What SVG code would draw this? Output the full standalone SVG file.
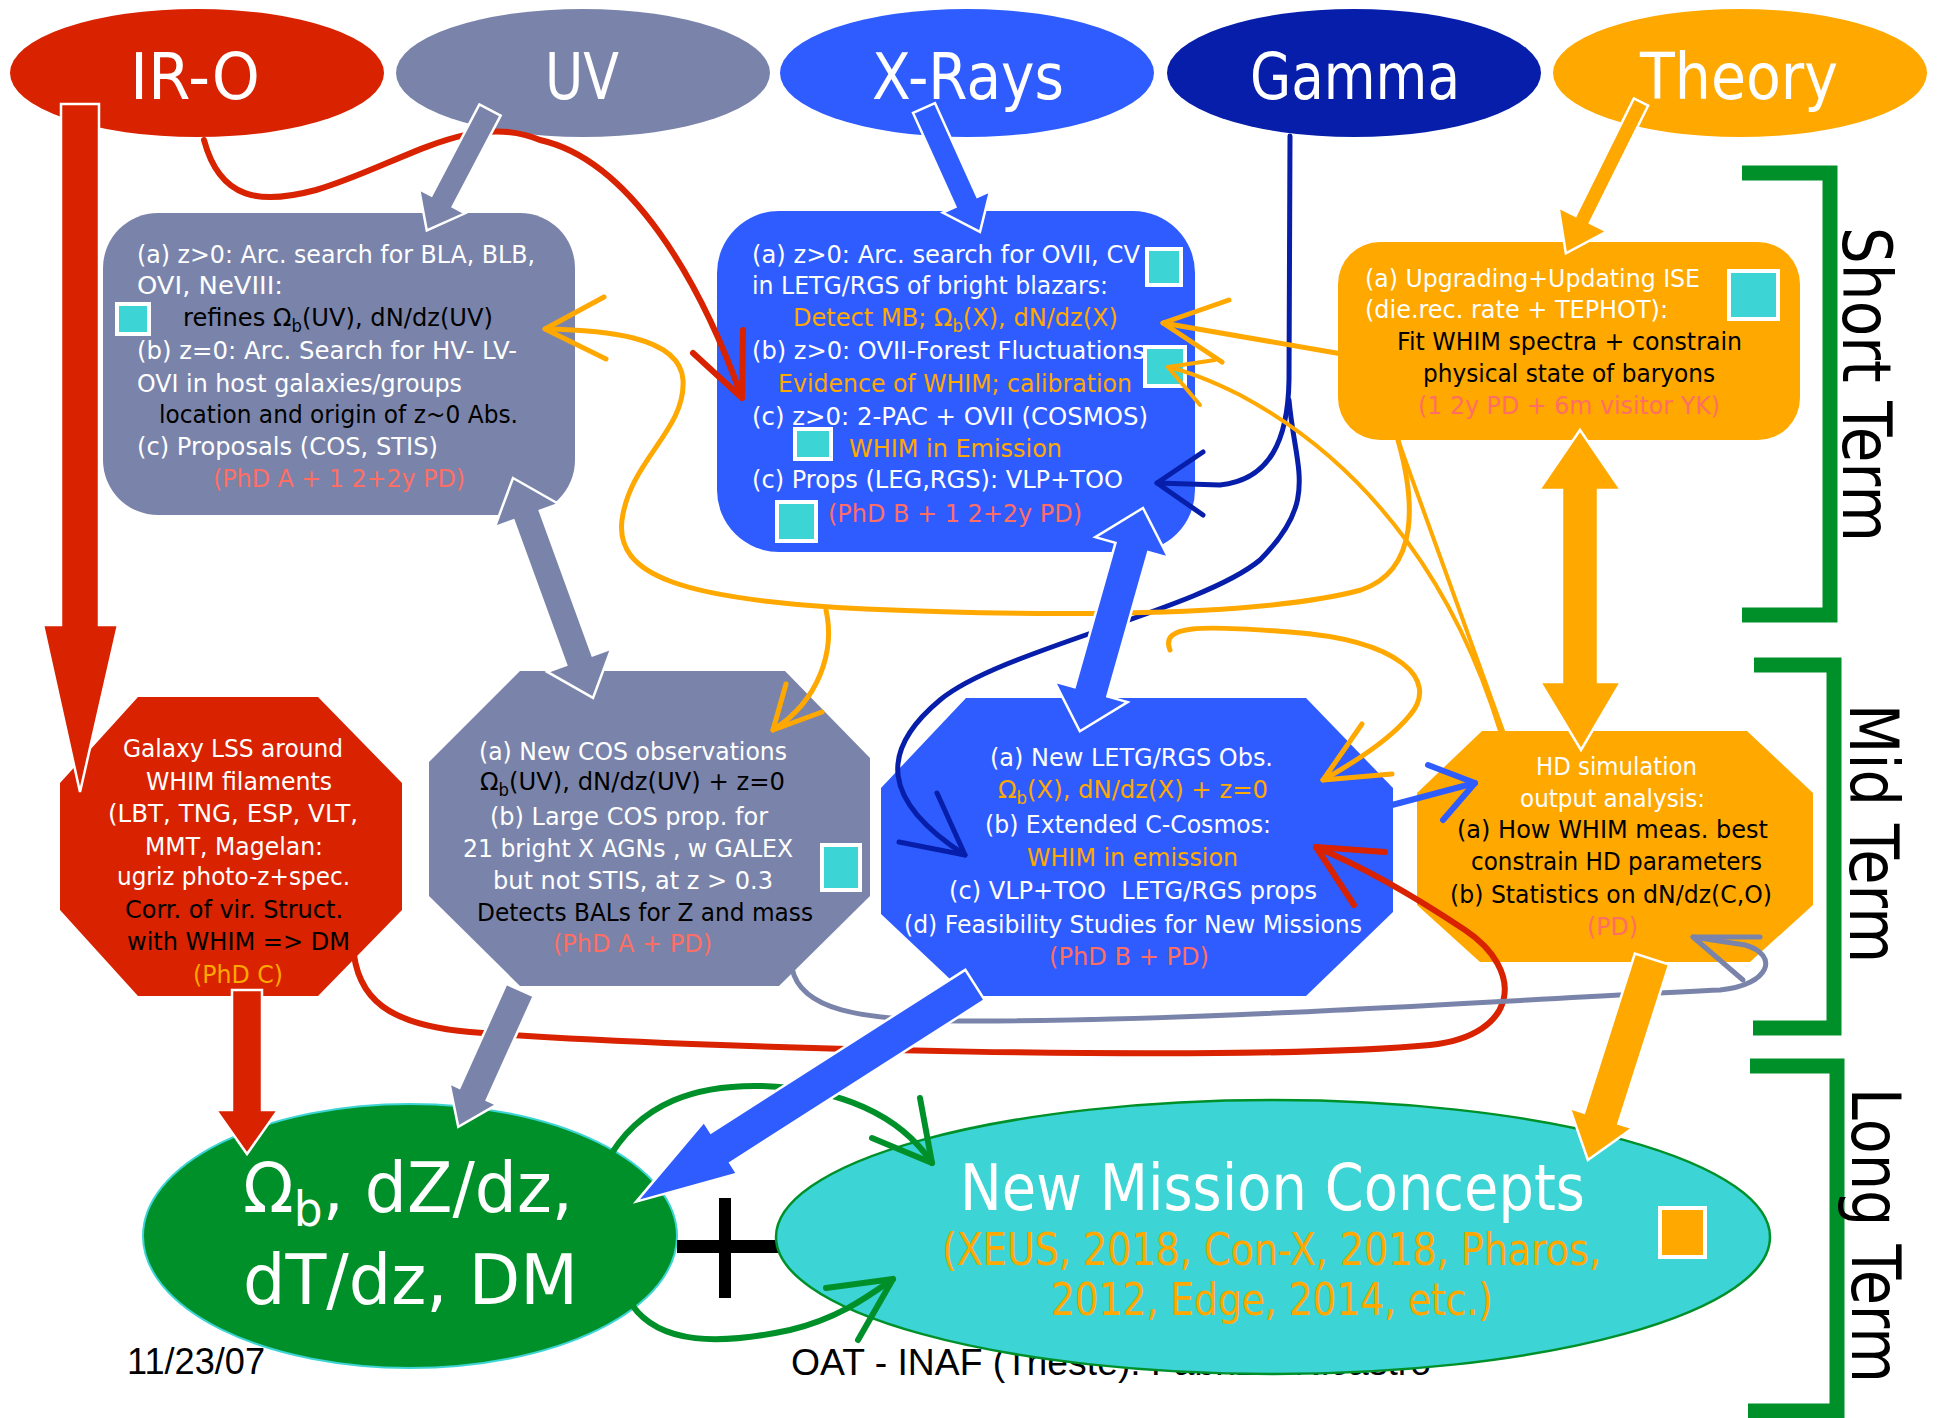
<svg xmlns="http://www.w3.org/2000/svg" width="1940" height="1418" viewBox="0 0 1940 1418">
<style>
text{font-family:"DejaVu Sans","Liberation Sans",sans-serif;}
.t{font-size:25px;}
.w{fill:#FFFFFF;}
.k{fill:#000000;}
.s{fill:#FF6E64;}
.o{fill:#FFA800;}
.sub{font-size:17px;}
.big{font-size:64px;fill:#FFFFFF;}
.side{font-size:68px;fill:#000000;}
.foot{font-family:"Liberation Sans",sans-serif;font-size:36px;fill:#000000;}
.sq{fill:#3CD4D4;stroke:#FFFFFF;stroke-width:4;}
.ln{fill:none;stroke-linecap:round;stroke-linejoin:round;}
.blk{stroke:#FFFFFF;stroke-width:2.5;stroke-linejoin:miter;}
.br{fill:none;stroke:#00902A;stroke-width:15;stroke-linejoin:miter;}
</style>

<g id="footer">
<text class="foot" x="127" y="1374" textLength="138" lengthAdjust="spacingAndGlyphs">11/23/07</text>
<text class="foot" x="791" y="1375" textLength="640" lengthAdjust="spacingAndGlyphs">OAT - INAF (Trieste): Fabrizio Nicastro</text>
</g>

<g id="node-iro">
<ellipse cx="197" cy="73" rx="187" ry="64" fill="#D82200"/>
<text class="big" x="130" y="99" textLength="130" lengthAdjust="spacingAndGlyphs">IR-O</text>
</g>
<g id="node-uv">
<ellipse cx="583" cy="73" rx="187" ry="64" fill="#7A84AA"/>
<text class="big" x="545" y="99" textLength="74" lengthAdjust="spacingAndGlyphs">UV</text>
</g>
<g id="node-xrays">
<ellipse cx="967" cy="73" rx="187" ry="64" fill="#2E5CFF"/>
<text class="big" x="872" y="99" textLength="192" lengthAdjust="spacingAndGlyphs">X-Rays</text>
</g>
<g id="node-gamma">
<ellipse cx="1354" cy="73" rx="187" ry="64" fill="#061EAA"/>
<text class="big" x="1250" y="99" textLength="210" lengthAdjust="spacingAndGlyphs">Gamma</text>
</g>
<g id="node-theory">
<ellipse cx="1740" cy="73" rx="187" ry="64" fill="#FFA800"/>
<text class="big" x="1640" y="99" textLength="198" lengthAdjust="spacingAndGlyphs">Theory</text>
</g>

<g id="box-uv">
<rect x="103" y="213" width="472" height="302" rx="55" fill="#7A84AA"/>
<text class="t w" x="137" y="263" textLength="398" lengthAdjust="spacingAndGlyphs">(a) z&gt;0: Arc. search for BLA, BLB,</text>
<text class="t w" x="137" y="294" textLength="146" lengthAdjust="spacingAndGlyphs">OVI, NeVIII:</text>
<text class="t k" x="183" y="326" textLength="310" lengthAdjust="spacingAndGlyphs">refines Ω<tspan class="sub" dy="6">b</tspan><tspan dy="-6">(UV), dN/dz(UV)</tspan></text>
<text class="t w" x="137" y="359" textLength="380" lengthAdjust="spacingAndGlyphs">(b) z=0: Arc. Search for HV- LV-</text>
<text class="t w" x="137" y="392" textLength="325" lengthAdjust="spacingAndGlyphs">OVI in host galaxies/groups</text>
<text class="t k" x="159" y="423" textLength="359" lengthAdjust="spacingAndGlyphs">location and origin of z~0 Abs.</text>
<text class="t w" x="137" y="455" textLength="301" lengthAdjust="spacingAndGlyphs">(c) Proposals (COS, STIS)</text>
<text class="t s" x="213" y="487" textLength="252" lengthAdjust="spacingAndGlyphs">(PhD A + 1 2+2y PD)</text>
<rect class="sq" x="117" y="304" width="32" height="30"/>
</g>

<g id="box-xrays">
<rect x="717" y="211" width="478" height="341" rx="62" fill="#2E5CFF"/>
<text class="t w" x="752" y="263" textLength="388" lengthAdjust="spacingAndGlyphs">(a) z&gt;0: Arc. search for OVII, CV</text>
<text class="t w" x="752" y="294" textLength="356" lengthAdjust="spacingAndGlyphs">in LETG/RGS of bright blazars:</text>
<text class="t o" x="793" y="326" textLength="325" lengthAdjust="spacingAndGlyphs">Detect MB; Ω<tspan class="sub" dy="6">b</tspan><tspan dy="-6">(X), dN/dz(X)</tspan></text>
<text class="t w" x="752" y="359" textLength="393" lengthAdjust="spacingAndGlyphs">(b) z&gt;0: OVII-Forest Fluctuations</text>
<text class="t o" x="778" y="392" textLength="354" lengthAdjust="spacingAndGlyphs">Evidence of WHIM; calibration</text>
<text class="t w" x="752" y="425" textLength="396" lengthAdjust="spacingAndGlyphs">(c) z&gt;0: 2-PAC + OVII (COSMOS)</text>
<text class="t o" x="849" y="457" textLength="213" lengthAdjust="spacingAndGlyphs">WHIM in Emission</text>
<text class="t w" x="752" y="488" textLength="371" lengthAdjust="spacingAndGlyphs">(c) Props (LEG,RGS): VLP+TOO</text>
<text class="t s" x="828" y="522" textLength="254" lengthAdjust="spacingAndGlyphs">(PhD B + 1 2+2y PD)</text>
<rect class="sq" x="1147" y="249" width="34" height="36"/>
<rect class="sq" x="1145" y="347" width="40" height="39"/>
<rect class="sq" x="795" y="429" width="36" height="30"/>
<rect class="sq" x="777" y="502" width="39" height="39"/>
</g>

<g id="box-theory">
<rect x="1338" y="242" width="462" height="198" rx="42" fill="#FFA800"/>
<text class="t w" x="1365" y="287" textLength="335" lengthAdjust="spacingAndGlyphs">(a) Upgrading+Updating ISE</text>
<text class="t w" x="1365" y="318" textLength="303" lengthAdjust="spacingAndGlyphs">(die.rec. rate + TEPHOT):</text>
<text class="t k" x="1397" y="350" textLength="345" lengthAdjust="spacingAndGlyphs">Fit WHIM spectra + constrain</text>
<text class="t k" x="1423" y="382" textLength="292" lengthAdjust="spacingAndGlyphs">physical state of baryons</text>
<text class="t s" x="1418" y="414" textLength="302" lengthAdjust="spacingAndGlyphs">(1 2y PD + 6m visitor YK)</text>
<rect class="sq" x="1729" y="271" width="49" height="48"/>
</g>

<g id="oct-galaxy">
<polygon points="138,697 318,697 402,783 402,910 318,996 138,996 60,910 60,783" fill="#D82200"/>
<text class="t w" x="123" y="757" textLength="220" lengthAdjust="spacingAndGlyphs">Galaxy LSS around</text>
<text class="t w" x="146" y="790" textLength="186" lengthAdjust="spacingAndGlyphs">WHIM filaments</text>
<text class="t w" x="108" y="822" textLength="250" lengthAdjust="spacingAndGlyphs">(LBT, TNG, ESP, VLT,</text>
<text class="t w" x="145" y="855" textLength="178" lengthAdjust="spacingAndGlyphs">MMT, Magelan:</text>
<text class="t w" x="117" y="885" textLength="233" lengthAdjust="spacingAndGlyphs">ugriz photo-z+spec.</text>
<text class="t k" x="125" y="918" textLength="218" lengthAdjust="spacingAndGlyphs">Corr. of vir. Struct.</text>
<text class="t k" x="127" y="950" textLength="223" lengthAdjust="spacingAndGlyphs">with WHIM =&gt; DM</text>
<text class="t o" x="193" y="983" textLength="90" lengthAdjust="spacingAndGlyphs">(PhD C)</text>
</g>

<g id="oct-cos">
<polygon points="520,671 785,671 870,758 870,896 779,986 520,986 429,896 429,762" fill="#7A84AA"/>
<text class="t w" x="479" y="760" textLength="308" lengthAdjust="spacingAndGlyphs">(a) New COS observations</text>
<text class="t k" x="480" y="790" textLength="305" lengthAdjust="spacingAndGlyphs">Ω<tspan class="sub" dy="6">b</tspan><tspan dy="-6">(UV), dN/dz(UV) + z=0</tspan></text>
<text class="t w" x="490" y="825" textLength="278" lengthAdjust="spacingAndGlyphs">(b) Large COS prop. for</text>
<text class="t w" x="463" y="857" textLength="330" lengthAdjust="spacingAndGlyphs">21 bright X AGNs , w GALEX</text>
<text class="t w" x="493" y="889" textLength="280" lengthAdjust="spacingAndGlyphs">but not STIS, at z &gt; 0.3</text>
<text class="t k" x="477" y="921" textLength="336" lengthAdjust="spacingAndGlyphs">Detects BALs for Z and mass</text>
<text class="t s" x="553" y="952" textLength="159" lengthAdjust="spacingAndGlyphs">(PhD A + PD)</text>
<rect class="sq" x="822" y="845" width="38" height="45"/>
</g>

<g id="oct-letg">
<polygon points="966,698 1306,698 1393,788 1393,912 1306,996 968,996 881,914 881,788" fill="#2E5CFF"/>
<text class="t w" x="990" y="766" textLength="283" lengthAdjust="spacingAndGlyphs">(a) New LETG/RGS Obs.</text>
<text class="t o" x="998" y="798" textLength="270" lengthAdjust="spacingAndGlyphs">Ω<tspan class="sub" dy="6">b</tspan><tspan dy="-6">(X), dN/dz(X) + z=0</tspan></text>
<text class="t w" x="985" y="833" textLength="286" lengthAdjust="spacingAndGlyphs">(b) Extended C-Cosmos:</text>
<text class="t o" x="1027" y="866" textLength="211" lengthAdjust="spacingAndGlyphs">WHIM in emission</text>
<text class="t w" x="949" y="899" textLength="368" lengthAdjust="spacingAndGlyphs" xml:space="preserve">(c) VLP+TOO  LETG/RGS props</text>
<text class="t w" x="904" y="933" textLength="458" lengthAdjust="spacingAndGlyphs">(d) Feasibility Studies for New Missions</text>
<text class="t s" x="1049" y="965" textLength="160" lengthAdjust="spacingAndGlyphs">(PhD B + PD)</text>
</g>

<g id="oct-hd">
<polygon points="1482,731 1747,731 1813,793 1813,905 1750,962 1480,962 1417,905 1417,793" fill="#FFA800"/>
<text class="t w" x="1536" y="775" textLength="161" lengthAdjust="spacingAndGlyphs">HD simulation</text>
<text class="t w" x="1520" y="807" textLength="185" lengthAdjust="spacingAndGlyphs">output analysis:</text>
<text class="t k" x="1457" y="838" textLength="311" lengthAdjust="spacingAndGlyphs">(a) How WHIM meas. best</text>
<text class="t k" x="1471" y="870" textLength="291" lengthAdjust="spacingAndGlyphs">constrain HD parameters</text>
<text class="t k" x="1450" y="903" textLength="322" lengthAdjust="spacingAndGlyphs">(b) Statistics on dN/dz(C,O)</text>
<text class="t s" x="1587" y="935" textLength="51" lengthAdjust="spacingAndGlyphs">(PD)</text>
</g>

<g id="node-omega">
<ellipse cx="410" cy="1236" rx="267" ry="132" fill="#00902A" stroke="#3CD4D4" stroke-width="2"/>
<text x="243" y="1212" font-size="70" fill="#FFFFFF" textLength="330" lengthAdjust="spacingAndGlyphs">Ω<tspan font-size="48" dy="14">b</tspan><tspan dy="-14">, dZ/dz,</tspan></text>
<text x="243" y="1304" font-size="70" fill="#FFFFFF" textLength="335" lengthAdjust="spacingAndGlyphs">dT/dz, DM</text>
</g>

<g id="plus">
<rect x="719" y="1198" width="12" height="100" fill="#000000"/>
<rect x="677" y="1240" width="102" height="13" fill="#000000"/>
</g>

<g id="node-missions">
<ellipse cx="1273" cy="1237" rx="497" ry="137" fill="#3CD4D4" stroke="#00902A" stroke-width="2.5"/>
<text x="960" y="1210" font-size="64" fill="#FFFFFF" textLength="625" lengthAdjust="spacingAndGlyphs">New Mission Concepts</text>
<text x="942" y="1265" font-size="44" fill="#FFA800" textLength="659" lengthAdjust="spacingAndGlyphs">(XEUS, 2018, Con-X, 2018, Pharos,</text>
<text x="1051" y="1315" font-size="44" fill="#FFA800" textLength="442" lengthAdjust="spacingAndGlyphs">2012, Edge, 2014, etc.)</text>
<rect x="1660" y="1208" width="45" height="49" fill="#FFA800" stroke="#FFFFFF" stroke-width="4"/>
</g>

<g id="connectors">
<!-- red -->
<path class="ln" stroke="#D82200" stroke-width="6" d="M204,140 C220,200 260,205 316,190 C400,165 470,110 540,140 C630,160 700,280 742,398"/>
<path class="ln" stroke="#D82200" stroke-width="6" d="M693,353 L742,398 L743,330"/>
<path class="ln" stroke="#D82200" stroke-width="6" d="M353,945 C356,1000 390,1025 470,1032 C700,1050 1250,1062 1430,1045 C1520,1035 1525,970 1465,930 C1420,900 1370,870 1316,847"/>
<path class="ln" stroke="#D82200" stroke-width="6" d="M1385,852 L1316,847 L1354,905"/>
<!-- grey -->
<path class="ln" stroke="#7A84AA" stroke-width="5" d="M792,968 C800,1010 860,1020 960,1021 C1200,1022 1500,1000 1720,990 C1770,985 1780,955 1745,945 L1693,937"/>
<path class="ln" stroke="#7A84AA" stroke-width="5" d="M1760,937 L1693,937 L1743,980"/>
<!-- dark blue -->
<path class="ln" stroke="#061EAA" stroke-width="5" d="M1290,136 L1289,380 C1288,440 1270,480 1220,485 L1157,483"/>
<path class="ln" stroke="#061EAA" stroke-width="5" d="M1203,452 L1157,483 L1203,515"/>
<path class="ln" stroke="#061EAA" stroke-width="5" d="M1289,400 C1295,470 1320,500 1260,560 C1200,610 1000,650 940,700 C880,750 880,800 965,855"/>
<path class="ln" stroke="#061EAA" stroke-width="5" d="M899,842 L965,855 L937,793"/>
<!-- blue -->
<path class="ln" stroke="#2E5CFF" stroke-width="6" d="M1392,805 L1475,783"/>
<path class="ln" stroke="#2E5CFF" stroke-width="6" d="M1428,765 L1475,783 L1443,820"/>
<!-- orange -->
<path class="ln" stroke="#FFA800" stroke-width="5" d="M1342,354 L1163,323"/>
<path class="ln" stroke="#FFA800" stroke-width="5" d="M1229,300 L1163,323 L1222,362"/>
<path class="ln" stroke="#FFA800" stroke-width="4" d="M1500,731 C1460,600 1380,470 1240,395 C1210,380 1190,372 1168,367"/>
<path class="ln" stroke="#FFA800" stroke-width="4" d="M1215,360 L1168,367 L1200,405"/>
<path class="ln" stroke="#FFA800" stroke-width="4" d="M1398,440 L1503,731"/>
<path class="ln" stroke="#FFA800" stroke-width="5" d="M545,329 C600,330 680,335 683,380 C686,430 630,460 622,520 C615,575 680,600 866,609 C1000,615 1250,620 1361,590 C1420,570 1415,500 1398,440"/>
<path class="ln" stroke="#FFA800" stroke-width="5" d="M604,297 L545,329 L606,359"/>
<path class="ln" stroke="#FFA800" stroke-width="5" d="M1170,650 C1160,625 1200,625 1290,632 C1400,640 1440,680 1410,715 C1390,740 1355,762 1323,780"/>
<path class="ln" stroke="#FFA800" stroke-width="5" d="M1362,724 L1323,780 L1392,774"/>
<path class="ln" stroke="#FFA800" stroke-width="5" d="M826,610 C835,650 820,700 773,730"/>
<path class="ln" stroke="#FFA800" stroke-width="5" d="M786,684 L773,730 L822,712"/>
<!-- green -->
<path class="ln" stroke="#00902A" stroke-width="6" d="M606,1163 C640,1100 700,1085 760,1086 C840,1088 900,1115 932,1163"/>
<path class="ln" stroke="#00902A" stroke-width="6" d="M872,1138 L932,1163 L920,1098"/>
<path class="ln" stroke="#00902A" stroke-width="6" d="M632,1305 C660,1345 720,1345 790,1330 C840,1318 870,1295 893,1279"/>
<path class="ln" stroke="#00902A" stroke-width="6" d="M826,1288 L893,1279 L858,1340"/>
<!-- block arrows -->
<polygon class="blk" fill="#D82200" points="61,104 99,104 99,625 118,625 80,792 43,625 61,625"/>
<polygon class="blk" fill="#7A84AA" transform="translate(490,110) rotate(117.7)" points="0,-12 103,-12 103,-26 136,0 103,26 103,12 0,12"/>
<polygon class="blk" fill="#2E5CFF" transform="translate(924,108) rotate(65.7)" points="0,-12 103,-12 103,-26 136,0 103,26 103,12 0,12"/>
<polygon class="blk" fill="#FFA800" transform="translate(1641,102) rotate(116.4)" points="0,-8 131,-8 131,-27 169,0 131,27 131,8 0,8"/>
<polygon class="blk" fill="#7A84AA" transform="translate(513,478) rotate(70)" points="0,0 40,-34 40,-14 194,-14 194,-34 234,0 194,34 194,14 40,14 40,34"/>
<polygon class="blk" fill="#2E5CFF" transform="translate(1143,508) rotate(105.8)" points="0,0 41,-38 41,-17 191,-17 191,-38 232,0 191,38 191,17 41,17 41,38"/>
<polygon class="blk" fill="#FFA800" points="1580,430 1621,490 1598,490 1598,682 1621,682 1581,750 1540,682 1562,682 1562,490 1539,490"/>
<polygon class="blk" fill="#7A84AA" transform="translate(520,990) rotate(114.3)" points="0,-15 114,-15 114,-26 150,0 114,26 114,15 0,15"/>
<polygon class="blk" fill="#2E5CFF" transform="translate(975,985) rotate(147.4)" points="0,-18 302,-18 302,-31 402,0 302,31 302,18 0,18"/>
<polygon class="blk" fill="#D82200" points="232,990 262,990 262,1110 278,1110 247,1154 216,1110 232,1110"/>
<polygon class="blk" fill="#FFA800" transform="translate(1652,959) rotate(107.7)" points="0,-18 167,-18 167,-33 211,0 167,33 167,18 0,18"/>
</g>

<g id="term-short">
<path class="br" d="M1742,173 H1830 V615 H1742"/>
<text class="side" transform="translate(1843,227) rotate(90)" textLength="315" lengthAdjust="spacingAndGlyphs">Short Term</text>
</g>
<g id="term-mid">
<path class="br" d="M1754,665 H1834 V1028 H1753"/>
<text class="side" transform="translate(1850,704) rotate(90)" textLength="259" lengthAdjust="spacingAndGlyphs">Mid Term</text>
</g>
<g id="term-long">
<path class="br" d="M1750,1066 H1837 V1411 H1748"/>
<text class="side" transform="translate(1852,1088) rotate(90)" textLength="295" lengthAdjust="spacingAndGlyphs">Long Term</text>
</g>
</svg>
